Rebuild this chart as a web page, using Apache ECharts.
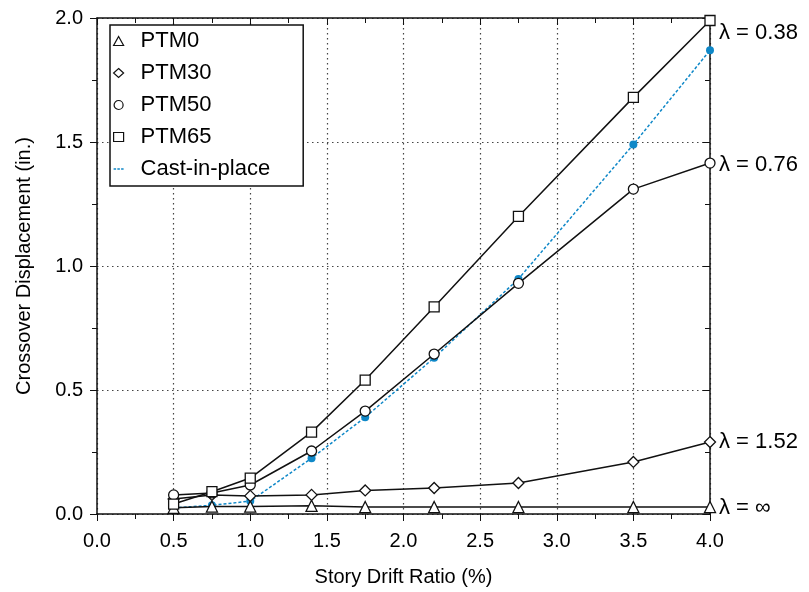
<!DOCTYPE html>
<html>
<head>
<meta charset="utf-8">
<script src="https://cdn.jsdelivr.net/npm/echarts@6/dist/echarts.min.js"></script>
<style>
  html, body { margin: 0; padding: 0; background: #fff; }
  #chart { width: 809px; height: 592px; }
</style>
</head>
<body>
<div id="chart"></div>
<script>
// story drift ratio (%) for every test point
const driftRatio = [0.5, 0.75, 1.0, 1.4, 1.75, 2.2, 2.75, 3.5, 4.0];

// crossover displacement (in.)
const ptm0 = [0.025, 0.03, 0.03, 0.033, 0.028, 0.028, 0.028, 0.028, 0.028];
const ptm30 = [0.06, 0.077, 0.073, 0.077, 0.095, 0.105, 0.125, 0.21, 0.29];
const ptm50 = [0.077, 0.085, 0.117, 0.254, 0.415, 0.645, 0.93, 1.31, 1.415];
const ptm65 = [0.04, 0.09, 0.145, 0.33, 0.54, 0.835, 1.2, 1.68, 1.99];
const castInPlace = [0.025, 0.035, 0.052, 0.225, 0.39, 0.63, 0.948, 1.49, 1.87];

const lambdaLabels = {
  PTM0: "λ = ∞",
  PTM30: "λ = 1.52",
  PTM50: "λ = 0.76",
  PTM65: "λ = 0.38"
};

const FONT = "Liberation Sans";
const BLUE = "#0f88c8";

const pairs = (ys) => driftRatio.map((x, i) => [x, ys[i]]);

const chart = echarts.init(document.getElementById("chart"));

const testSeries = (name, values, symbol, size, labelOffset) => ({
  name,
  type: "line",
  data: pairs(values),
  symbol,
  symbolSize: size,
  z: 3,
  lineStyle: { color: "#111", width: 1.5 },
  itemStyle: { color: "#fff", borderColor: "#111", borderWidth: 1.3 },
  endLabel: {
    show: true,
    formatter: lambdaLabels[name],
    color: "#000",
    fontFamily: FONT,
    fontSize: 22,
    distance: 9,
    offset: labelOffset
  }
});

const axisCommon = {
  type: "value",
  min: 0,
  interval: 0.5,
  axisLine: { onZero: false, lineStyle: { color: "#111", width: 1.5 } },
  minorTick: { show: true, splitNumber: 2, length: 5, lineStyle: { color: "#111", width: 1 } }
};

const legendIcon = { color: "#fff", borderColor: "#111", borderWidth: 1.2 };

chart.setOption({
  animation: false,
  textStyle: { fontFamily: FONT },
  grid: { left: 97, right: 99, top: 18, bottom: 78 },
  legend: {
    orient: "vertical",
    left: 110,
    top: 25,
    padding: [5, 33, 6, 3],
    itemGap: 10,
    itemWidth: 10,
    itemHeight: 9,
    borderColor: "#111",
    borderWidth: 1.5,
    backgroundColor: "#fff",
    textStyle: { fontSize: 22, color: "#000", fontFamily: FONT, padding: [0, 0, 0, 12] },
    data: [
      { name: "PTM0", icon: "triangle", itemStyle: legendIcon },
      { name: "PTM30", icon: "diamond", itemStyle: legendIcon },
      { name: "PTM50", icon: "circle", itemStyle: legendIcon },
      { name: "PTM65", icon: "rect", itemStyle: legendIcon },
      {
        name: "Cast-in-place",
        icon: "path://M0,0h3v1.6h-3z M4.5,0h3v1.6h-3z M9,0h3v1.6h-3z",
        itemStyle: { color: BLUE, borderWidth: 0 }
      }
    ]
  },
  xAxis: [
    {
      ...axisCommon,
      max: 4,
      position: "bottom",
      name: "Story Drift Ratio (%)",
      nameLocation: "middle",
      nameGap: 53,
      nameTextStyle: { fontSize: 20, color: "#000", fontFamily: FONT },
      axisTick: { show: true, inside: false, length: 7, lineStyle: { color: "#111" } },
      axisLabel: {
        color: "#000",
        fontSize: 20,
        margin: 17,
        fontFamily: FONT,
        formatter: (v) => v.toFixed(1)
      },
      splitLine: { show: true, lineStyle: { color: "#444", type: [1.5, 3.5], width: 1.2 } }
    },
    {
      ...axisCommon,
      max: 4,
      position: "top",
      axisTick: { show: true, inside: true, length: 7, lineStyle: { color: "#111" } },
      axisLabel: { show: false },
      splitLine: { show: false }
    }
  ],
  yAxis: [
    {
      ...axisCommon,
      max: 2,
      position: "left",
      name: "Crossover Displacement (in.)",
      nameLocation: "middle",
      nameGap: 63,
      nameTextStyle: { fontSize: 20, color: "#000", fontFamily: FONT },
      axisTick: { show: true, inside: false, length: 7, lineStyle: { color: "#111" } },
      axisLabel: {
        color: "#000",
        fontSize: 20,
        margin: 14,
        fontFamily: FONT,
        formatter: (v) => v.toFixed(1)
      },
      splitLine: { show: true, lineStyle: { color: "#444", type: [1.5, 3.5], width: 1.2 } }
    },
    {
      ...axisCommon,
      max: 2,
      position: "right",
      axisTick: { show: true, inside: true, length: 7, lineStyle: { color: "#111" } },
      axisLabel: { show: false },
      splitLine: { show: false }
    }
  ],
  series: [
    {
      name: "Cast-in-place",
      type: "line",
      data: pairs(castInPlace),
      symbol: "circle",
      symbolSize: 8,
      z: 2,
      lineStyle: { color: BLUE, width: 1.5, type: [3, 2] },
      itemStyle: { color: BLUE, borderWidth: 0 }
    },
    testSeries("PTM0", ptm0, "triangle", 11, [0, 1]),
    testSeries("PTM30", ptm30, "diamond", 11, [0, 0]),
    testSeries("PTM50", ptm50, "circle", 10, [0, 2]),
    testSeries("PTM65", ptm65, "rect", 10, [0, 12])
  ]
});
</script>
</body>
</html>
